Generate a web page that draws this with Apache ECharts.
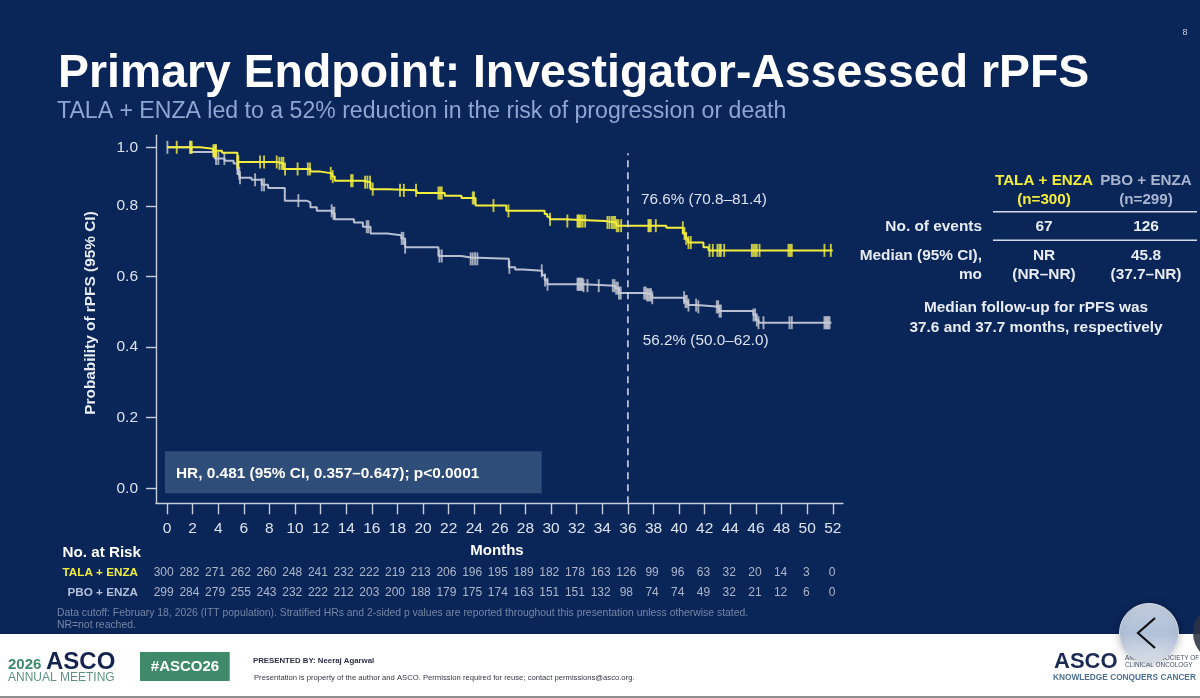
<!DOCTYPE html>
<html>
<head>
<meta charset="utf-8">
<style>html,body{margin:0;padding:0;background:#0a2558}#c{width:1200px;height:698px}</style>
<script src="https://cdn.jsdelivr.net/npm/echarts@6/dist/echarts.min.js"></script>
</head>
<body>
<div id="c"></div>
<script>
const taxisMonths = [0,2,4,6,8,10,12,14,16,18,20,22,24,26,28,30,32,34,36,38,40,42,44,46,48,50,52];
const yTickLabels = [0,0.2,0.4,0.6,0.8,1.0];
const riskRows = ['TALA + ENZA','PBO + ENZA'];
const riskTala = [300,282,271,262,260,248,241,232,222,219,213,206,196,195,189,182,178,163,126,99,96,63,32,20,14,3,0];
const riskPbo  = [299,284,279,255,243,232,222,212,203,200,188,179,175,174,163,151,151,132,98,74,74,49,32,21,12,6,0];

const talaCurve = [[0,1.0],[2.6,.995],[3.6,.988],[4.3,.981],[5.5,.95],[8.6,.945],[9.1,.926],[11.2,.917],[12.0,.911],[12.9,.9],[13.1,.886],[15.3,.881],[15.9,.857],[17.3,.853],[19.5,.844],[21.7,.835],[23.0,.827],[24.1,.801],[26.5,.786],[29.5,.777],[29.7,.769],[29.9,.762],[31.0,.757],[34.2,.753],[35.1,.744],[39.0,.738],[40.3,.722],[40.5,.708],[40.7,.696],[41.9,.683],[42.3,.674],[52.0,.674]];
const pboCurve = [[0,1.0],[1.9,.984],[3.6,.979],[3.75,.962],[4.5,.954],[5.2,.945],[5.5,.928],[5.6,.911],[5.7,.896],[6.6,.889],[7.4,.872],[7.9,.861],[9.2,.818],[10.9,.812],[11.2,.796],[11.7,.786],[12.9,.779],[13.1,.762],[14.6,.753],[15.3,.741],[15.9,.722],[17.2,.717],[18.3,.708],[18.6,.683],[21.2,.658],[23.0,.654],[23.7,.65],[26.7,.626],[27.2,.62],[27.8,.616],[29.3,.604],[29.5,.59],[29.7,.578],[32.5,.574],[35.0,.567],[35.3,.553],[37.5,.548],[37.9,.54],[40.4,.529],[40.7,.519],[41.4,.514],[43.1,.502],[45.8,.491],[46.0,.477],[46.2,.469],[51.9,.469]];

const talaCensored = [.76,1.8,1.93,3.62,3.7,3.78,3.83,5.5,5.57,7.27,7.58,8.57,8.78,8.96,9.09,9.22,10.2,11.0,11.17,12.79,12.94,14.38,14.5,15.47,15.65,15.86,16.07,18.2,18.5,19.45,21.2,21.33,21.46,23.88,23.98,25.5,26.67,29.92,31.27,32.06,32.13,32.21,32.32,32.47,32.66,34.4,34.56,34.74,34.87,35.0,35.13,35.26,35.47,37.6,37.68,37.79,38.18,40.29,40.42,40.55,40.73,40.91,42.37,42.63,42.99,43.15,43.26,43.52,45.68,45.81,45.94,46.07,46.28,48.54,48.67,48.8,51.35,51.85];
const pboCensored = [.03,1.85,3.83,4.01,4.48,5.5,5.57,5.65,5.7,6.88,7.4,7.58,10.26,12.86,13.0,13.07,15.6,15.73,18.33,18.46,18.6,21.28,21.46,23.72,23.88,24.06,24.24,26.74,29.27,29.53,29.72,32.06,32.13,32.21,32.29,32.37,32.45,32.53,32.84,33.72,34.82,34.95,35.08,35.21,35.3,35.44,37.27,37.4,37.5,37.6,37.7,37.8,37.9,40.39,40.5,40.6,40.73,41.33,41.5,42.94,43.05,43.15,43.26,45.81,45.94,46.07,46.2,46.59,48.62,48.8,51.35,51.45,51.55,51.65,51.75];

const cutoffMonth = 36;
const cutoffTop = 0.98;

const NAVY='#0a2558', YEL='#f3ee3e', GREY='#b7bfd1', CENS='#c8ccd4', AXIS='#c4cede', TXT='#dde3ee', WH='#e8ecf3';
const FF='"Liberation Sans", Arial, sans-serif';

// The reference prints its 1.0 tick closer to 0.8 than the other ticks are spaced:
// above 0.8 the printed axis is compressed, so values pass through this same mapping.
const topSqueeze = 0.83;
const toAxis = v => v <= 0.8 ? v : 0.8 + (v - 0.8) * topSqueeze;
const valueAt = (curve, m) => { let y = curve[0][1]; for (const p of curve) { if (p[0] <= m) y = p[1]; } return y; };
const curveData = c => c.map(p => [p[0], toAxis(p[1])]);
const censData = (c, ms) => ms.map(m => [m, toAxis(valueAt(c, m))]);

function t(x, y, text, fill, size, bold, align) {
  return {type:'text', z:20, silent:true, style:{x, y, text, fill, font:(bold?'bold ':'')+size+'px '+FF, align:align||'left', verticalAlign:'middle'}};
}
const graphics = [
  {type:'rect', z:0, silent:true, shape:{x:165,y:451.3,width:376.7,height:42}, style:{fill:'#2e4d78'}},
  t(176,474,'HR, 0.481 (95% CI, 0.357–0.647); p<0.0001','#fff',15.4,true),
  t(58,74,'Primary Endpoint: Investigator-Assessed rPFS','#fff',46.4,true),
  t(57,112,'TALA + ENZA led to a 52% reduction in the risk of progression or death','#8ea6d2',23.1,false),
  t(1185,33,'8','#c9d2e2',9,false,'center'),
  t(641,200,'76.6% (70.8–81.4)',TXT,15.3,false),
  t(642.7,341,'56.2% (50.0–62.0)',TXT,15.3,false),
  {type:'text', z:20, silent:true, x:90.7, y:313, rotation:Math.PI/2, style:{x:0,y:0,text:'Probability of rPFS (95% CI)',fill:WH,font:'bold 15.4px '+FF,align:'center',verticalAlign:'middle'}},
  t(497,551,'Months','#fff',15,true,'center'),
  t(141,553,'No. at Risk','#fff',15.2,true,'right'),
  t(57,613,'Data cutoff: February 18, 2026 (ITT population). Stratified HRs and 2-sided p values are reported throughout this presentation unless otherwise stated.','#7687a5',10.4,false),
  t(57,625,'NR=not reached.','#7687a5',10.4,false),

  t(1044,180.7,'TALA + ENZA',YEL,15.2,true,'center'),
  t(1146,180.7,'PBO + ENZA','#a9b5ce',15.2,true,'center'),
  t(1044,199.5,'(n=300)',YEL,15.2,true,'center'),
  t(1146,199.5,'(n=299)','#a9b5ce',15.2,true,'center'),
  {type:'rect', z:20, silent:true, shape:{x:993,y:211,width:204,height:1.4}, style:{fill:'#d4dbe8'}},
  {type:'rect', z:20, silent:true, shape:{x:993,y:239.5,width:204,height:1.4}, style:{fill:'#d4dbe8'}},
  t(982,226.7,'No. of events',WH,15.4,true,'right'),
  t(1044,226.7,'67',WH,15.4,true,'center'),
  t(1146,226.7,'126',WH,15.4,true,'center'),
  t(982,255.7,'Median (95% CI),',WH,15.4,true,'right'),
  t(982,275,'mo',WH,15.4,true,'right'),
  t(1044,255.7,'NR',WH,15.4,true,'center'),
  t(1044,275,'(NR–NR)',WH,15.4,true,'center'),
  t(1146,255.7,'45.8',WH,15.4,true,'center'),
  t(1146,275,'(37.7–NR)',WH,15.4,true,'center'),
  t(1036,307.7,'Median follow-up for rPFS was',WH,15.4,true,'center'),
  t(1036,327.7,'37.6 and 37.7 months, respectively',WH,15.4,true,'center'),

  {type:'rect', z:10, silent:true, shape:{x:0,y:634,width:1200,height:64}, style:{fill:'#ffffff'}},
  {type:'rect', z:11, silent:true, shape:{x:1000,y:634,width:200,height:62}, style:{fill:{type:'radial',x:.75,y:.1,r:.6,colorStops:[{offset:0,color:'#dcdde0'},{offset:1,color:'rgba(255,255,255,0)'}]}}},
  {type:'rect', z:11, silent:true, shape:{x:0,y:696,width:1200,height:2}, style:{fill:'#8e8e8e'}},
  t(8,665,'2026','#3f8a6b',15,true),
  t(46,662,'ASCO','#14244e',24,true),
  t(8,678,'ANNUAL MEETING','#5d9480',12,false),
  {type:'rect', z:15, silent:true, shape:{x:140,y:652,width:89.7,height:29}, style:{fill:'#3f8a6b'}},
  t(185,667,'#ASCO26','#fff',15,true,'center'),
  t(253,661,'PRESENTED BY: Neeraj Agarwal','#2a2f45',7.8,true),
  t(254,678,'Presentation is property of the author and ASCO. Permission required for reuse; contact permissions@asco.org.','#333744',7.66,false),
  t(1054,662,'ASCO','#1b2a55',22,true),
  t(1125,658,'AMERICAN SOCIETY OF','#44506e',6.4,false),
  t(1125,665.5,'CLINICAL ONCOLOGY','#44506e',6.4,false),
  t(1053,678,'KNOWLEDGE CONQUERS CANCER','#4d7192',8.3,true),
  {type:'circle', z:30, silent:true, shape:{cx:1222,cy:633,r:29}, style:{fill:'#2c3242',opacity:.88}},
  {type:'circle', z:31, silent:true, shape:{cx:1149,cy:633,r:29.5}, style:{fill:{type:'linear',x:0,y:0,x2:0,y2:1,colorStops:[{offset:0,color:'#c3cedd'},{offset:.5,color:'#b0c0d8'},{offset:1,color:'#dde2ea'}]},stroke:'#d5dbe5',lineWidth:1,shadowBlur:8,shadowColor:'rgba(0,0,0,.25)'}},
  {type:'polyline', z:32, silent:true, shape:{points:[[1155,618],[1138,633],[1155,648]]}, style:{stroke:'#0d0f14',lineWidth:2.2,fill:null}}
];

const option = {
  backgroundColor: NAVY,
  animation: false,
  textStyle: {fontFamily: FF},
  grid: [
    {left:156, top:135.3, width:687, height:368},
    {left:163.7, top:562.5, width:668.3, height:40}
  ],
  xAxis: [
    {gridIndex:0, type:'value', min:-0.86, max:52.8, splitLine:{show:false},
     axisLine:{onZero:false, lineStyle:{color:AXIS,width:1.4}},
     axisTick:{customValues:taxisMonths, length:11, lineStyle:{color:AXIS,width:1.4}},
     axisLabel:{customValues:taxisMonths, color:TXT, fontSize:15.5, margin:17, fontFamily:FF, hideOverlap:false}},
    {gridIndex:1, type:'value', min:0, max:52, show:false}
  ],
  yAxis: [
    {gridIndex:0, type:'value', min:-0.0425, max:1.0, splitLine:{show:false},
     axisLine:{show:true, onZero:false, lineStyle:{color:AXIS,width:1.4}},
     axisTick:{customValues:yTickLabels.map(toAxis), length:10, lineStyle:{color:AXIS,width:1.4}},
     axisLabel:{customValues:yTickLabels.map(toAxis), color:TXT, fontSize:15.5, margin:18, fontFamily:FF,
       formatter:v => (v > 0.9 ? 1 : v).toFixed(1)}},
    {gridIndex:1, type:'category', inverse:true, data:riskRows,
     axisLine:{show:false}, axisTick:{show:false}, splitLine:{show:false},
     axisLabel:{margin:25.7, formatter:v => v===riskRows[0] ? '{a|'+v+'}' : '{b|'+v+'}',
       rich:{a:{color:YEL,fontWeight:'bold',fontSize:11.7,fontFamily:FF},b:{color:'#b5c0d6',fontWeight:'bold',fontSize:11.7,fontFamily:FF}}}}
  ],
  series: [
    {name:'PBO + ENZA', type:'line', step:'end', showSymbol:false, silent:true, data:curveData(pboCurve), lineStyle:{color:GREY,width:2}, z:3},
    {name:'PBO + ENZA censored', type:'scatter', symbol:'rect', symbolSize:[1.9,13], silent:true, data:censData(pboCurve,pboCensored), itemStyle:{color:CENS}, z:3},
    {name:'TALA + ENZA', type:'line', step:'end', showSymbol:false, silent:true, data:curveData(talaCurve), lineStyle:{color:YEL,width:2}, z:4},
    {name:'TALA + ENZA censored', type:'scatter', symbol:'rect', symbolSize:[1.9,13], silent:true, data:censData(talaCurve,talaCensored), itemStyle:{color:YEL}, z:4},
    {name:'36 months', type:'line', showSymbol:false, silent:true, data:[[cutoffMonth,-0.0425],[cutoffMonth,toAxis(cutoffTop)]], lineStyle:{color:'#e6eaf2',width:1.4,type:[7,5]}, z:5},
    {name:'At risk TALA', type:'scatter', xAxisIndex:1, yAxisIndex:1, symbolSize:0, silent:true,
     data:taxisMonths.map((m,i)=>[m,riskRows[0],riskTala[i]]),
     label:{show:true, position:'inside', formatter:p=>p.value[2], color:'#d3d9e5', fontSize:12, fontFamily:FF}},
    {name:'At risk PBO', type:'scatter', xAxisIndex:1, yAxisIndex:1, symbolSize:0, silent:true,
     data:taxisMonths.map((m,i)=>[m,riskRows[1],riskPbo[i]]),
     label:{show:true, position:'inside', formatter:p=>p.value[2], color:'#d3d9e5', fontSize:12, fontFamily:FF}}
  ],
  graphic: {elements: graphics}
};
const chart = echarts.init(document.getElementById('c'), null, {renderer:'canvas', width:1200, height:698});
chart.setOption(option);
</script>
</body>
</html>
